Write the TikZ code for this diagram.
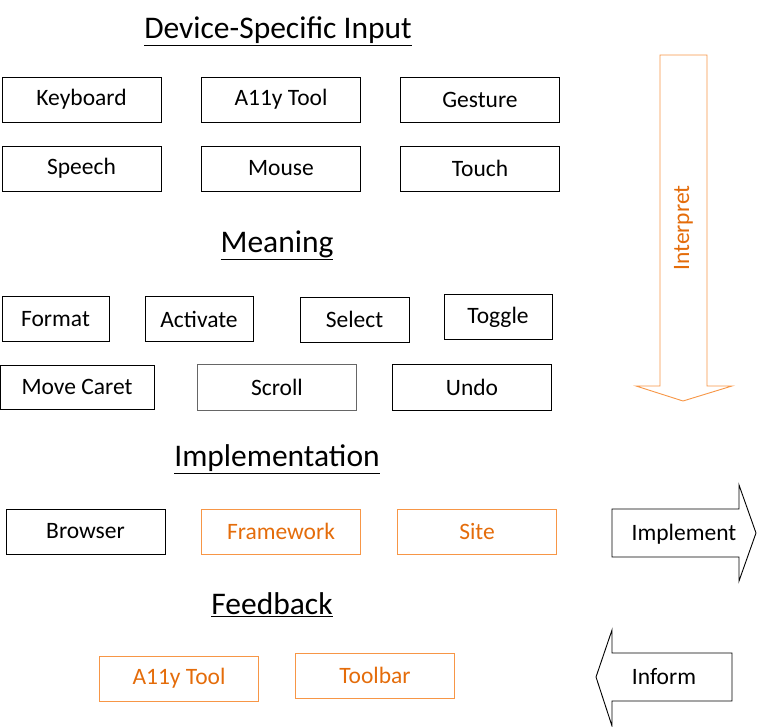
\documentclass[tikz,border=0pt]{standalone}
\usepackage{fontspec}
\setmainfont{Carlito}
\definecolor{orline}{HTML}{F79646}
\definecolor{ortext}{HTML}{E46C0A}
\begin{document}
\begin{tikzpicture}[x=1pt,y=-1pt,
  box/.style={draw=black,line width=0.9pt,rectangle,inner sep=0pt,minimum width=159pt,minimum height=45pt,font=\fontsize{23.5}{25}\selectfont},
  obox/.style={box,draw=orline,text=ortext},
  head/.style={font=\fontsize{31.5}{33}\selectfont,inner sep=0pt},
  bigarrow/.style={line width=0.9pt,fill=white},
  lbl/.style={font=\fontsize{23.5}{25}\selectfont,inner sep=0pt}]
\useasboundingbox (0,0) rectangle (768,727);
% headings
\node[head] (h1) at (278,31) {\underline{Device-Specific Input}};
\node[head] (h2) at (277,245) {\underline{Meaning}};
\node[head] (h3) at (277,459) {\underline{Implementation}};
\node[head] (h4) at (272,605) {\underline{Feedback}};
% device input
\node[box] (kb) at (81.5,99.5) {Keyboard};
\node[box] (a11y) at (281,99.5) {A11y Tool};
\node[box] (ges) at (480,99.5) {Gesture};
\node[box] (sp) at (81.5,168.5) {Speech};
\node[box] (mo) at (281,168.5) {Mouse};
\node[box] (to) at (480,168.5) {Touch};
% meaning
\node[box,minimum width=107pt] (fo) at (55.5,319) {Format};
\node[box,minimum width=108pt] (ac) at (199,319) {Activate};
\node[box,minimum width=109pt] (se) at (354.5,319.5) {Select};
\node[box,minimum width=108pt] (tg) at (498,317) {Toggle};
\node[box,minimum width=154pt,minimum height=44pt] (mc) at (77,387) {Move Caret};
\node[box,minimum height=46pt,draw=black!60] (sc) at (277,387) {Scroll};
\node[box,minimum height=46pt] (un) at (472,387) {Undo};
% implementation
\node[box] (br) at (85.5,531.5) {Browser};
\node[obox] (fw) at (281,531.5) {Framework};
\node[obox] (si) at (477,531.5) {Site};
% feedback
\node[obox] (fa) at (179,678.5) {A11y Tool};
\node[obox] (tb) at (375,675.5) {Toolbar};
% Interpret arrow
\draw[bigarrow,draw=orline] (660,55) -- (707,55) -- (707,386) -- (732,386) -- (683,401) -- (636,386) -- (660,386) -- cycle;
\node[lbl,text=ortext,rotate=90] (int) at (683.5,228) {Interpret};
% Implement arrow
\draw[bigarrow,draw=black] (612,509) -- (739,509) -- (739,485) -- (756,533) -- (739,581) -- (739,557) -- (612,557) -- cycle;
\node[lbl] (imp) at (684,534) {Implement};
% Inform arrow
\draw[bigarrow,draw=black] (732,653) -- (612,653) -- (612,630) -- (596,677) -- (612,726) -- (612,701) -- (732,701) -- cycle;
\node[lbl] (inf) at (664,677) {Inform};
\end{tikzpicture}
\end{document}
